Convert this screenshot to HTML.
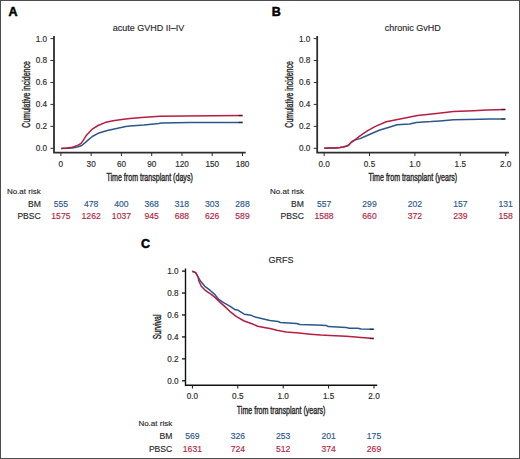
<!DOCTYPE html>
<html><head><meta charset="utf-8"><style>
html,body{margin:0;padding:0;background:#fff;}
body{width:520px;height:459px;overflow:hidden;}
svg{display:block;font-family:"Liberation Sans", sans-serif;}
</style></head><body>
<svg width="520" height="459" viewBox="0 0 520 459">
<rect x="0.5" y="0.5" width="519" height="458" fill="#fff" stroke="#4d4d4d" stroke-width="1"/>
<text x="8.6" y="16" font-size="12.5" font-weight="bold" fill="#000" stroke="#000" stroke-width="0.5">A</text>
<text x="148.4" y="30.8" font-size="9" text-anchor="middle" fill="#2a2a2a" stroke="#2a2a2a" stroke-width="0.15">acute GVHD II–IV</text>
<g transform="translate(29.8,94.4) rotate(-90) scale(0.7,1)"><text x="0" y="0" font-size="10" text-anchor="middle" fill="#2a2a2a" stroke="#2a2a2a" stroke-width="0.4">Cumulative incidence</text></g>
<path d="M54 36 V152.7 H245.7" fill="none" stroke="#2e2e2e" stroke-width="1.8" stroke-linejoin="miter"/>
<path d="M50.5 148.3 H54" stroke="#2e2e2e" stroke-width="1.0"/>
<text x="47.1" y="151.2" font-size="8.2" text-anchor="end" fill="#2a2a2a" stroke="#2a2a2a" stroke-width="0.15">0.0</text>
<path d="M50.5 126.36 H54" stroke="#2e2e2e" stroke-width="1.0"/>
<text x="47.1" y="129.26" font-size="8.2" text-anchor="end" fill="#2a2a2a" stroke="#2a2a2a" stroke-width="0.15">0.2</text>
<path d="M50.5 104.42 H54" stroke="#2e2e2e" stroke-width="1.0"/>
<text x="47.1" y="107.32" font-size="8.2" text-anchor="end" fill="#2a2a2a" stroke="#2a2a2a" stroke-width="0.15">0.4</text>
<path d="M50.5 82.48 H54" stroke="#2e2e2e" stroke-width="1.0"/>
<text x="47.1" y="85.38" font-size="8.2" text-anchor="end" fill="#2a2a2a" stroke="#2a2a2a" stroke-width="0.15">0.6</text>
<path d="M50.5 60.54 H54" stroke="#2e2e2e" stroke-width="1.0"/>
<text x="47.1" y="63.44" font-size="8.2" text-anchor="end" fill="#2a2a2a" stroke="#2a2a2a" stroke-width="0.15">0.8</text>
<path d="M50.5 38.6 H54" stroke="#2e2e2e" stroke-width="1.0"/>
<text x="47.1" y="41.5" font-size="8.2" text-anchor="end" fill="#2a2a2a" stroke="#2a2a2a" stroke-width="0.15">1.0</text>
<path d="M60.9 152.7 V156" stroke="#2e2e2e" stroke-width="1"/>
<text x="60.9" y="166.6" font-size="8.2" text-anchor="middle" fill="#2a2a2a" stroke="#2a2a2a" stroke-width="0.15">0</text>
<text x="60.9" y="206.5" font-size="8.6" text-anchor="middle" fill="#2b578c" stroke="#2b578c" stroke-width="0.15">555</text>
<text x="60.9" y="219.2" font-size="8.6" text-anchor="middle" fill="#b51e42" stroke="#b51e42" stroke-width="0.15">1575</text>
<path d="M91.17 152.7 V156" stroke="#2e2e2e" stroke-width="1"/>
<text x="91.17" y="166.6" font-size="8.2" text-anchor="middle" fill="#2a2a2a" stroke="#2a2a2a" stroke-width="0.15">30</text>
<text x="91.17" y="206.5" font-size="8.6" text-anchor="middle" fill="#2b578c" stroke="#2b578c" stroke-width="0.15">478</text>
<text x="91.17" y="219.2" font-size="8.6" text-anchor="middle" fill="#b51e42" stroke="#b51e42" stroke-width="0.15">1262</text>
<path d="M121.43 152.7 V156" stroke="#2e2e2e" stroke-width="1"/>
<text x="121.43" y="166.6" font-size="8.2" text-anchor="middle" fill="#2a2a2a" stroke="#2a2a2a" stroke-width="0.15">60</text>
<text x="121.43" y="206.5" font-size="8.6" text-anchor="middle" fill="#2b578c" stroke="#2b578c" stroke-width="0.15">400</text>
<text x="121.43" y="219.2" font-size="8.6" text-anchor="middle" fill="#b51e42" stroke="#b51e42" stroke-width="0.15">1037</text>
<path d="M151.7 152.7 V156" stroke="#2e2e2e" stroke-width="1"/>
<text x="151.7" y="166.6" font-size="8.2" text-anchor="middle" fill="#2a2a2a" stroke="#2a2a2a" stroke-width="0.15">90</text>
<text x="151.7" y="206.5" font-size="8.6" text-anchor="middle" fill="#2b578c" stroke="#2b578c" stroke-width="0.15">368</text>
<text x="151.7" y="219.2" font-size="8.6" text-anchor="middle" fill="#b51e42" stroke="#b51e42" stroke-width="0.15">945</text>
<path d="M181.97 152.7 V156" stroke="#2e2e2e" stroke-width="1"/>
<text x="181.97" y="166.6" font-size="8.2" text-anchor="middle" fill="#2a2a2a" stroke="#2a2a2a" stroke-width="0.15">120</text>
<text x="181.97" y="206.5" font-size="8.6" text-anchor="middle" fill="#2b578c" stroke="#2b578c" stroke-width="0.15">318</text>
<text x="181.97" y="219.2" font-size="8.6" text-anchor="middle" fill="#b51e42" stroke="#b51e42" stroke-width="0.15">688</text>
<path d="M212.23 152.7 V156" stroke="#2e2e2e" stroke-width="1"/>
<text x="212.23" y="166.6" font-size="8.2" text-anchor="middle" fill="#2a2a2a" stroke="#2a2a2a" stroke-width="0.15">150</text>
<text x="212.23" y="206.5" font-size="8.6" text-anchor="middle" fill="#2b578c" stroke="#2b578c" stroke-width="0.15">303</text>
<text x="212.23" y="219.2" font-size="8.6" text-anchor="middle" fill="#b51e42" stroke="#b51e42" stroke-width="0.15">626</text>
<path d="M242.5 152.7 V156" stroke="#2e2e2e" stroke-width="1"/>
<text x="242.5" y="166.6" font-size="8.2" text-anchor="middle" fill="#2a2a2a" stroke="#2a2a2a" stroke-width="0.15">180</text>
<text x="242.5" y="206.5" font-size="8.6" text-anchor="middle" fill="#2b578c" stroke="#2b578c" stroke-width="0.15">288</text>
<text x="242.5" y="219.2" font-size="8.6" text-anchor="middle" fill="#b51e42" stroke="#b51e42" stroke-width="0.15">589</text>
<g transform="translate(149.6,181) scale(0.71,1)"><text x="0" y="0" font-size="10" text-anchor="middle" fill="#2a2a2a" stroke="#2a2a2a" stroke-width="0.4">Time from transplant (days)</text></g>
<text x="6.9" y="193.8" font-size="8.0" fill="#2a2a2a" stroke="#2a2a2a" stroke-width="0.15">No.at risk</text>
<text x="40.8" y="206.5" font-size="8.6" text-anchor="end" fill="#2a2a2a" stroke="#2a2a2a" stroke-width="0.15">BM</text>
<text x="40.8" y="219.2" font-size="8.6" text-anchor="end" fill="#2a2a2a" stroke="#2a2a2a" stroke-width="0.15">PBSC</text>
<path d="M61.2 148.4 L72.4 147.9 L78.2 146.8 L81.7 145.5 L84.5 143.2 L87.4 140.6 L92.3 136.5 L98.1 133.3 L107.3 130.5 L115.4 128.7 L125.8 126.4 L130 125.9 L143.8 125.1 L158.8 123.6 L161.2 123 L190 122.4 L242.5 122.4" fill="none" stroke="#2b578c" stroke-width="1.5" stroke-linejoin="round" stroke-linecap="butt"/><path d="M238.5 122.4 H242.8" stroke="#000" stroke-opacity="0.45" stroke-width="1.5"/>
<path d="M61.2 148.4 L66.7 148.1 L72.4 147.2 L77.6 145.4 L81.1 143.4 L83.4 140.1 L86.5 135.2 L92.3 129.1 L98.1 125.5 L105 122.6 L113.1 120.7 L123.5 119.2 L130 118.6 L141.5 117.5 L160 116.3 L185 116.1 L242.5 115.6" fill="none" stroke="#b51e42" stroke-width="1.5" stroke-linejoin="round" stroke-linecap="butt"/><path d="M238.5 115.6 H242.8" stroke="#000" stroke-opacity="0.45" stroke-width="1.5"/>
<text x="271.8" y="16" font-size="12.5" font-weight="bold" fill="#000" stroke="#000" stroke-width="0.5">B</text>
<text x="412.8" y="30.8" font-size="9" text-anchor="middle" fill="#2a2a2a" stroke="#2a2a2a" stroke-width="0.15">chronic GvHD</text>
<g transform="translate(293,94.4) rotate(-90) scale(0.7,1)"><text x="0" y="0" font-size="10" text-anchor="middle" fill="#2a2a2a" stroke="#2a2a2a" stroke-width="0.4">Cumulative incidence</text></g>
<path d="M317.2 36 V152.7 H508.9" fill="none" stroke="#2e2e2e" stroke-width="1.8" stroke-linejoin="miter"/>
<path d="M313.7 148.3 H317.2" stroke="#2e2e2e" stroke-width="1.0"/>
<text x="310.3" y="151.2" font-size="8.2" text-anchor="end" fill="#2a2a2a" stroke="#2a2a2a" stroke-width="0.15">0.0</text>
<path d="M313.7 126.36 H317.2" stroke="#2e2e2e" stroke-width="1.0"/>
<text x="310.3" y="129.26" font-size="8.2" text-anchor="end" fill="#2a2a2a" stroke="#2a2a2a" stroke-width="0.15">0.2</text>
<path d="M313.7 104.42 H317.2" stroke="#2e2e2e" stroke-width="1.0"/>
<text x="310.3" y="107.32" font-size="8.2" text-anchor="end" fill="#2a2a2a" stroke="#2a2a2a" stroke-width="0.15">0.4</text>
<path d="M313.7 82.48 H317.2" stroke="#2e2e2e" stroke-width="1.0"/>
<text x="310.3" y="85.38" font-size="8.2" text-anchor="end" fill="#2a2a2a" stroke="#2a2a2a" stroke-width="0.15">0.6</text>
<path d="M313.7 60.54 H317.2" stroke="#2e2e2e" stroke-width="1.0"/>
<text x="310.3" y="63.44" font-size="8.2" text-anchor="end" fill="#2a2a2a" stroke="#2a2a2a" stroke-width="0.15">0.8</text>
<path d="M313.7 38.6 H317.2" stroke="#2e2e2e" stroke-width="1.0"/>
<text x="310.3" y="41.5" font-size="8.2" text-anchor="end" fill="#2a2a2a" stroke="#2a2a2a" stroke-width="0.15">1.0</text>
<path d="M324.1 152.7 V156" stroke="#2e2e2e" stroke-width="1"/>
<text x="324.1" y="166.6" font-size="8.2" text-anchor="middle" fill="#2a2a2a" stroke="#2a2a2a" stroke-width="0.15">0.0</text>
<text x="324.1" y="206.5" font-size="8.6" text-anchor="middle" fill="#2b578c" stroke="#2b578c" stroke-width="0.15">557</text>
<text x="324.1" y="219.2" font-size="8.6" text-anchor="middle" fill="#b51e42" stroke="#b51e42" stroke-width="0.15">1588</text>
<path d="M369.5 152.7 V156" stroke="#2e2e2e" stroke-width="1"/>
<text x="369.5" y="166.6" font-size="8.2" text-anchor="middle" fill="#2a2a2a" stroke="#2a2a2a" stroke-width="0.15">0.5</text>
<text x="369.5" y="206.5" font-size="8.6" text-anchor="middle" fill="#2b578c" stroke="#2b578c" stroke-width="0.15">299</text>
<text x="369.5" y="219.2" font-size="8.6" text-anchor="middle" fill="#b51e42" stroke="#b51e42" stroke-width="0.15">660</text>
<path d="M414.9 152.7 V156" stroke="#2e2e2e" stroke-width="1"/>
<text x="414.9" y="166.6" font-size="8.2" text-anchor="middle" fill="#2a2a2a" stroke="#2a2a2a" stroke-width="0.15">1.0</text>
<text x="414.9" y="206.5" font-size="8.6" text-anchor="middle" fill="#2b578c" stroke="#2b578c" stroke-width="0.15">202</text>
<text x="414.9" y="219.2" font-size="8.6" text-anchor="middle" fill="#b51e42" stroke="#b51e42" stroke-width="0.15">372</text>
<path d="M460.3 152.7 V156" stroke="#2e2e2e" stroke-width="1"/>
<text x="460.3" y="166.6" font-size="8.2" text-anchor="middle" fill="#2a2a2a" stroke="#2a2a2a" stroke-width="0.15">1.5</text>
<text x="460.3" y="206.5" font-size="8.6" text-anchor="middle" fill="#2b578c" stroke="#2b578c" stroke-width="0.15">157</text>
<text x="460.3" y="219.2" font-size="8.6" text-anchor="middle" fill="#b51e42" stroke="#b51e42" stroke-width="0.15">239</text>
<path d="M505.7 152.7 V156" stroke="#2e2e2e" stroke-width="1"/>
<text x="505.7" y="166.6" font-size="8.2" text-anchor="middle" fill="#2a2a2a" stroke="#2a2a2a" stroke-width="0.15">2.0</text>
<text x="505.7" y="206.5" font-size="8.6" text-anchor="middle" fill="#2b578c" stroke="#2b578c" stroke-width="0.15">131</text>
<text x="505.7" y="219.2" font-size="8.6" text-anchor="middle" fill="#b51e42" stroke="#b51e42" stroke-width="0.15">158</text>
<g transform="translate(412.8,181) scale(0.71,1)"><text x="0" y="0" font-size="10" text-anchor="middle" fill="#2a2a2a" stroke="#2a2a2a" stroke-width="0.4">Time from transplant (years)</text></g>
<text x="270.1" y="193.8" font-size="8.0" fill="#2a2a2a" stroke="#2a2a2a" stroke-width="0.15">No.at risk</text>
<text x="304" y="206.5" font-size="8.6" text-anchor="end" fill="#2a2a2a" stroke="#2a2a2a" stroke-width="0.15">BM</text>
<text x="304" y="219.2" font-size="8.6" text-anchor="end" fill="#2a2a2a" stroke="#2a2a2a" stroke-width="0.15">PBSC</text>
<path d="M324.2 148.3 L330 148.1 L335.4 147.9 L340 147.4 L343.1 146.9 L346 146.3 L348.5 145.3 L351.5 142 L354.6 140.1 L360 138.6 L367.7 135.2 L379.2 130.2 L390.8 126.7 L396.9 124.8 L409.6 124.1 L416.3 122.4 L431.1 121.6 L440 120.9 L453.5 119.7 L480.4 119.3 L489.8 119 L505.3 119" fill="none" stroke="#2b578c" stroke-width="1.5" stroke-linejoin="round" stroke-linecap="butt"/><path d="M501.3 119 H505.6" stroke="#000" stroke-opacity="0.45" stroke-width="1.5"/>
<path d="M324.2 148.3 L330 148.1 L335.4 147.9 L340 147.4 L343.1 146.9 L346 146.3 L348.5 145.3 L351.5 142 L354.6 140.1 L360 135.9 L367.7 130.7 L375.4 126.4 L386.2 121.8 L400 119 L417.5 115.4 L436.5 113.5 L453.5 111.6 L473.6 110.7 L487.1 110.1 L505.3 109.5" fill="none" stroke="#b51e42" stroke-width="1.5" stroke-linejoin="round" stroke-linecap="butt"/><path d="M501.3 109.5 H505.6" stroke="#000" stroke-opacity="0.45" stroke-width="1.5"/>
<text x="141" y="248.2" font-size="12.5" font-weight="bold" fill="#000" stroke="#000" stroke-width="0.5">C</text>
<text x="281.1" y="263.3" font-size="9" text-anchor="middle" fill="#2a2a2a" stroke="#2a2a2a" stroke-width="0.15">GRFS</text>
<g transform="translate(161.3,326.9) rotate(-90) scale(0.7,1)"><text x="0" y="0" font-size="10" text-anchor="middle" fill="#2a2a2a" stroke="#2a2a2a" stroke-width="0.4">Survival</text></g>
<path d="M185.5 268.5 V385.2 H377.2" fill="none" stroke="#111" stroke-width="1.4" stroke-linejoin="miter"/>
<path d="M182 380.8 H185.5" stroke="#111" stroke-width="1.3"/>
<text x="178.6" y="383.7" font-size="8.2" text-anchor="end" fill="#2a2a2a" stroke="#2a2a2a" stroke-width="0.15">0.0</text>
<path d="M182 358.86 H185.5" stroke="#111" stroke-width="1.3"/>
<text x="178.6" y="361.76" font-size="8.2" text-anchor="end" fill="#2a2a2a" stroke="#2a2a2a" stroke-width="0.15">0.2</text>
<path d="M182 336.92 H185.5" stroke="#111" stroke-width="1.3"/>
<text x="178.6" y="339.82" font-size="8.2" text-anchor="end" fill="#2a2a2a" stroke="#2a2a2a" stroke-width="0.15">0.4</text>
<path d="M182 314.98 H185.5" stroke="#111" stroke-width="1.3"/>
<text x="178.6" y="317.88" font-size="8.2" text-anchor="end" fill="#2a2a2a" stroke="#2a2a2a" stroke-width="0.15">0.6</text>
<path d="M182 293.04 H185.5" stroke="#111" stroke-width="1.3"/>
<text x="178.6" y="295.94" font-size="8.2" text-anchor="end" fill="#2a2a2a" stroke="#2a2a2a" stroke-width="0.15">0.8</text>
<path d="M182 271.1 H185.5" stroke="#111" stroke-width="1.3"/>
<text x="178.6" y="274" font-size="8.2" text-anchor="end" fill="#2a2a2a" stroke="#2a2a2a" stroke-width="0.15">1.0</text>
<path d="M192.4 385.2 V388.5" stroke="#111" stroke-width="1"/>
<text x="192.4" y="399.1" font-size="8.2" text-anchor="middle" fill="#2a2a2a" stroke="#2a2a2a" stroke-width="0.15">0.0</text>
<text x="192.4" y="439" font-size="8.6" text-anchor="middle" fill="#2b578c" stroke="#2b578c" stroke-width="0.15">569</text>
<text x="192.4" y="451.7" font-size="8.6" text-anchor="middle" fill="#b51e42" stroke="#b51e42" stroke-width="0.15">1631</text>
<path d="M237.8 385.2 V388.5" stroke="#111" stroke-width="1"/>
<text x="237.8" y="399.1" font-size="8.2" text-anchor="middle" fill="#2a2a2a" stroke="#2a2a2a" stroke-width="0.15">0.5</text>
<text x="237.8" y="439" font-size="8.6" text-anchor="middle" fill="#2b578c" stroke="#2b578c" stroke-width="0.15">326</text>
<text x="237.8" y="451.7" font-size="8.6" text-anchor="middle" fill="#b51e42" stroke="#b51e42" stroke-width="0.15">724</text>
<path d="M283.2 385.2 V388.5" stroke="#111" stroke-width="1"/>
<text x="283.2" y="399.1" font-size="8.2" text-anchor="middle" fill="#2a2a2a" stroke="#2a2a2a" stroke-width="0.15">1.0</text>
<text x="283.2" y="439" font-size="8.6" text-anchor="middle" fill="#2b578c" stroke="#2b578c" stroke-width="0.15">253</text>
<text x="283.2" y="451.7" font-size="8.6" text-anchor="middle" fill="#b51e42" stroke="#b51e42" stroke-width="0.15">512</text>
<path d="M328.6 385.2 V388.5" stroke="#111" stroke-width="1"/>
<text x="328.6" y="399.1" font-size="8.2" text-anchor="middle" fill="#2a2a2a" stroke="#2a2a2a" stroke-width="0.15">1.5</text>
<text x="328.6" y="439" font-size="8.6" text-anchor="middle" fill="#2b578c" stroke="#2b578c" stroke-width="0.15">201</text>
<text x="328.6" y="451.7" font-size="8.6" text-anchor="middle" fill="#b51e42" stroke="#b51e42" stroke-width="0.15">374</text>
<path d="M374 385.2 V388.5" stroke="#111" stroke-width="1"/>
<text x="374" y="399.1" font-size="8.2" text-anchor="middle" fill="#2a2a2a" stroke="#2a2a2a" stroke-width="0.15">2.0</text>
<text x="374" y="439" font-size="8.6" text-anchor="middle" fill="#2b578c" stroke="#2b578c" stroke-width="0.15">175</text>
<text x="374" y="451.7" font-size="8.6" text-anchor="middle" fill="#b51e42" stroke="#b51e42" stroke-width="0.15">269</text>
<g transform="translate(281.1,413.5) scale(0.71,1)"><text x="0" y="0" font-size="10" text-anchor="middle" fill="#2a2a2a" stroke="#2a2a2a" stroke-width="0.4">Time from transplant (years)</text></g>
<text x="138.4" y="426.3" font-size="8.0" fill="#2a2a2a" stroke="#2a2a2a" stroke-width="0.15">No.at risk</text>
<text x="172.3" y="439" font-size="8.6" text-anchor="end" fill="#2a2a2a" stroke="#2a2a2a" stroke-width="0.15">BM</text>
<text x="172.3" y="451.7" font-size="8.6" text-anchor="end" fill="#2a2a2a" stroke="#2a2a2a" stroke-width="0.15">PBSC</text>
<path d="M192.2 271.3 L195.7 272.6 L198.3 277.5 L200.5 281.1 L204.8 286.3 L210 290.2 L214.4 294.1 L218.8 299.4 L224 302.9 L229.8 306.1 L234.6 309.4 L237.5 309.9 L244.2 314.2 L251 315.2 L253.8 316.6 L263.5 319 L270 320.6 L278.1 321.5 L280.4 322.5 L296.5 323.6 L300 324.4 L316.2 325 L326.5 325.6 L328.2 326.6 L346.2 327.5 L349.3 328.2 L357.8 328.2 L361 329 L373.7 329.3" fill="none" stroke="#2b578c" stroke-width="1.5" stroke-linejoin="round" stroke-linecap="butt"/><path d="M369.7 329.3 H374" stroke="#000" stroke-opacity="0.45" stroke-width="1.5"/>
<path d="M192.2 271.3 L195.7 272.6 L198.3 277.5 L198.9 281 L201.3 286.3 L205.7 290.7 L210.9 294.1 L215.3 297.6 L218.8 301.1 L224.9 306.6 L229.8 311.3 L236.5 316.6 L244.2 321 L251.9 323.8 L257.7 326.2 L265.4 327.7 L270 328.5 L276.9 330.2 L286.2 331.9 L298.8 333.1 L310.4 334.2 L320.8 335.1 L330 335.6 L346.2 336.2 L352.5 336.7 L361 337.4 L373.7 338.5" fill="none" stroke="#b51e42" stroke-width="1.5" stroke-linejoin="round" stroke-linecap="butt"/><path d="M369.7 338.5 H374" stroke="#000" stroke-opacity="0.45" stroke-width="1.5"/>
</svg>
</body></html>
